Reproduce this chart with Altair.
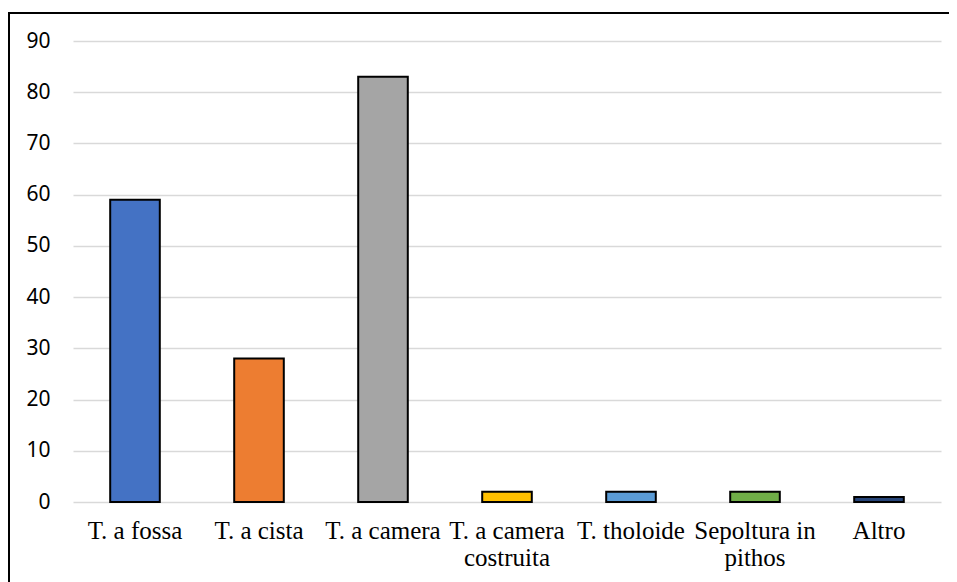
import altair as alt
import pandas as pd

categories = ["T. a fossa", "T. a cista", "T. a camera", "T. a camera costruita",
              "T. tholoide", "Sepoltura in pithos", "Altro"]
label_lines = [["T. a fossa"], ["T. a cista"], ["T. a camera"], ["T. a camera", "costruita"],
               ["T. tholoide"], ["Sepoltura in", "pithos"], ["Altro"]]
values = [59, 28, 83, 2, 2, 2, 1]
colors = ["#4472C4", "#ED7D31", "#A5A5A5", "#FFC000", "#5B9BD5", "#70AD47", "#264478"]

df = pd.DataFrame({"cat": categories, "val": values})

# build label expression for wrapped labels
expr = "datum.label"
for c, lines in zip(reversed(categories), reversed(label_lines)):
    arr = "[" + ",".join("'" + l + "'" for l in lines) + "]"
    expr = f"datum.label == '{c}' ? {arr} : ({expr})"

W, H = 868, 461

bars = alt.Chart(df).mark_bar(stroke="black", strokeWidth=2).encode(
    x=alt.X("cat:N", sort=categories, title=None,
            scale=alt.Scale(paddingInner=0.6, paddingOuter=0.3),
            axis=alt.Axis(labelAngle=0, labelExpr=expr, labelFont="Liberation Serif",
                          labelFontSize=25, labelColor="black", labelPadding=16,
                          ticks=False, domain=False, labelLineHeight=27)),
    y=alt.Y("val:Q", title=None,
            scale=alt.Scale(domain=[0, 90]),
            axis=alt.Axis(values=list(range(0, 91, 10)), labelFont="Noto Sans",
                          labelFontSize=21, labelColor="black", labelPadding=23,
                          ticks=False, domain=False, gridColor="#D9D9D9", gridWidth=1.5)),
    color=alt.Color("cat:N", sort=categories,
                    scale=alt.Scale(domain=categories, range=colors), legend=None),
)

border = alt.Chart(df).mark_rect(fill=None, stroke="black", strokeWidth=2).encode(
    x=alt.value(-64), x2=alt.value(900), y=alt.value(-28), y2=alt.value(600)
)

chart = alt.layer(bars, border).properties(
    width=W, height=H,
    padding={"left": 65, "top": 33, "right": 8, "bottom": 80},
    autosize=alt.AutoSizeParams(type="none"),
).configure_view(stroke=None)

chart.save("out.html", embed_options={"renderer": "svg", "actions": False})
